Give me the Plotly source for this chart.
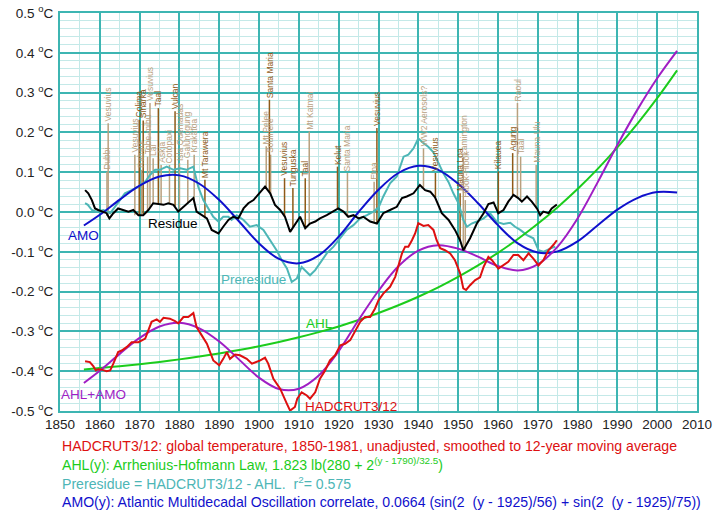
import plotly.graph_objects as go

# ---------------- data ----------------
had_years = [1856.3,1857.5,1858.4,1859.0,1859.6,1860.5,1861.7,1862.6,1863.4,1864.6,1865.5,1866.8,1868.0,1869.7,
             1871.4,1872.2,1873.0,1874.3,1875.1,1876.0,1877.6,1878.9,1879.7,1881.0,1882.2,1883.5,1884.3,1885.6,
             1886.9,1888.5,1890.0,1891.0,1891.9,1892.7,1894.0,1895.2,1896.9,1898.2,1900.3,1901.5,1902.3,1903.6,
             1905.3,1907.0,1907.8,1909.0,1909.6,1910.7,1912.0,1912.8,1914.1,1915.3,1916.6,1917.8,1919.1,1920.4,
             1921.6,1922.9,1924.1,1925.4,1926.6,1927.9,1929.1,1930.0,1931.2,1932.9,1934.2,1935.0,1935.9,1936.7,
             1937.5,1938.4,1939.2,1940.0,1941.3,1942.5,1943.8,1944.6,1945.5,1946.7,1948.0,1949.2,1950.5,1951.3,
             1952.0,1953.0,1954.3,1955.5,1956.4,1957.6,1958.5,1960.1,1961.4,1962.6,1963.9,1965.1,1966.4,1967.7,
             1968.9,1970.2,1971.4,1972.7,1973.9,1974.8]
had_vals = [-0.375,-0.377,-0.388,-0.398,-0.395,-0.396,-0.400,-0.398,-0.381,-0.352,-0.348,-0.339,-0.327,-0.327,
            -0.318,-0.297,-0.276,-0.270,-0.276,-0.266,-0.268,-0.274,-0.280,-0.264,-0.264,-0.254,-0.289,-0.310,
            -0.331,-0.373,-0.385,-0.369,-0.352,-0.369,-0.358,-0.360,-0.369,-0.381,-0.373,-0.366,-0.381,-0.419,
            -0.444,-0.482,-0.499,-0.490,-0.469,-0.453,-0.461,-0.469,-0.453,-0.419,-0.398,-0.373,-0.360,-0.335,
            -0.331,-0.322,-0.301,-0.276,-0.264,-0.264,-0.243,-0.222,-0.205,-0.188,-0.163,-0.134,-0.104,-0.087,
            -0.087,-0.071,-0.054,-0.028,-0.035,-0.033,-0.045,-0.071,-0.091,-0.096,-0.104,-0.121,-0.154,-0.192,
            -0.196,-0.184,-0.171,-0.164,-0.138,-0.113,-0.121,-0.142,-0.134,-0.125,-0.108,-0.108,-0.121,-0.104,
            -0.117,-0.134,-0.121,-0.096,-0.083,-0.071]

res_years = [1856.3,1857.1,1858.0,1858.8,1859.6,1860.5,1861.7,1862.4,1863.4,1864.6,1865.9,1867.2,1868.4,1869.7,
             1870.9,1872.2,1873.4,1874.7,1876.0,1877.2,1878.5,1879.7,1881.0,1882.2,1883.5,1884.3,1885.6,1886.9,
             1888.1,1889.8,1891.0,1892.3,1893.5,1894.8,1896.1,1897.3,1898.6,1900.3,1901.5,1902.8,1904.0,1905.3,
             1906.5,1907.8,1909.0,1910.3,1911.6,1912.8,1914.1,1915.3,1917.0,1918.7,1919.9,1921.2,1922.4,1923.7,
             1925.0,1926.2,1927.9,1929.6,1931.2,1932.9,1934.6,1935.9,1937.1,1938.8,1940.4,1941.7,1943.0,1944.2,
             1945.9,1947.6,1949.2,1950.5,1951.3,1953.0,1954.7,1956.4,1957.6,1958.9,1960.1,1961.4,1962.6,1963.9,
             1965.1,1966.0,1967.3,1968.5,1969.8,1970.6,1971.4,1972.7,1973.5,1974.8]
res_vals = [0.055,0.047,0.030,0.009,0.005,0.001,-0.003,-0.016,-0.003,0.009,0.005,0.001,0.005,-0.008,
            -0.008,0.005,0.022,0.020,0.018,0.022,0.018,0.001,0.013,0.022,0.035,0.001,-0.008,-0.016,
            -0.045,-0.054,-0.037,-0.020,-0.012,-0.016,0.009,0.022,0.030,0.051,0.064,0.047,0.018,0.005,
            -0.012,-0.050,-0.033,-0.012,-0.041,-0.029,-0.024,-0.016,-0.008,0.001,0.009,0.001,-0.012,-0.008,
            -0.016,-0.012,-0.024,-0.029,-0.003,0.005,0.013,0.035,0.039,0.047,0.068,0.055,0.051,0.037,
            -0.003,-0.020,-0.045,-0.071,-0.096,-0.066,-0.029,-0.003,0.020,0.024,-0.003,0.005,0.026,0.043,
            0.035,0.026,0.039,0.026,0.009,-0.008,0.001,-0.003,0.009,0.019]

pre_years = [1856.3,1857.0,1858.0,1859.2,1860.9,1862.6,1863.8,1865.1,1866.3,1868.0,1869.7,1871.4,1872.6,1873.9,
             1875.1,1876.8,1878.5,1880.2,1881.8,1883.5,1884.7,1886.0,1887.3,1888.5,1889.8,1891.0,1892.3,1893.1,
             1894.4,1896.1,1897.7,1899.4,1901.1,1902.8,1904.4,1905.7,1907.0,1908.2,1909.5,1910.7,1912.0,1912.8,
             1914.1,1915.3,1917.0,1918.7,1920.4,1922.0,1923.7,1925.4,1927.1,1928.7,1930.0,1931.2,1932.9,1934.6,
             1936.3,1937.5,1938.8,1940.0,1941.3,1942.5,1943.8,1945.0,1946.3,1947.6,1948.8,1950.1,1951.3,1952.2,
             1953.4,1954.7,1956.4,1958.0,1959.7,1961.4,1963.1,1964.3,1965.6,1967.3,1968.9,1970.2,1971.4,1973.1,
             1974.4]
pre_vals = [0.022,0.018,0.005,0.001,0.005,-0.003,0.013,0.030,0.047,0.055,0.064,0.076,0.093,0.106,
            0.106,0.114,0.106,0.110,0.106,0.114,0.064,0.030,0.009,-0.012,-0.024,-0.012,-0.012,-0.020,
            -0.008,-0.020,-0.037,-0.033,-0.045,-0.071,-0.096,-0.121,-0.142,-0.176,-0.167,-0.138,-0.150,-0.159,
            -0.146,-0.129,-0.104,-0.087,-0.066,-0.045,-0.033,-0.016,-0.008,0.001,0.011,0.039,0.072,0.089,
            0.139,0.144,0.160,0.185,0.173,0.164,0.150,0.125,0.097,0.075,0.047,0.022,-0.020,-0.037,
            -0.029,-0.024,-0.016,-0.003,-0.025,-0.030,-0.027,-0.037,-0.045,-0.058,-0.066,-0.096,-0.100,-0.092,
            -0.087]

model_years = [1856,1860,1865,1870,1875,1880,1885,1890,1895,1900,1905,1910,1915,1920,1925,1930,1935,1940,
               1945,1950,1955,1960,1965,1970,1975,1980,1985,1990,1995,2000,2005]
ahl_vals = [-0.3955,-0.3921,-0.3875,-0.3824,-0.3767,-0.3703,-0.3633,-0.3555,-0.3469,-0.3373,-0.3267,-0.3149,
            -0.3019,-0.2875,-0.2715,-0.2539,-0.2344,-0.2129,-0.1893,-0.1630,-0.1343,-0.1026,-0.0679,-0.0297,
            0.0122,0.0579,0.1078,0.1623,0.2216,0.2861,0.3560]
amo_vals = [-0.034,-0.007,0.031,0.066,0.089,0.092,0.071,0.030,-0.024,-0.079,-0.118,-0.129,-0.109,-0.062,
            0.000,0.056,0.098,0.116,0.106,0.071,0.022,-0.033,-0.079,-0.102,-0.099,-0.074,-0.034,0.006,
            0.035,0.050,0.049]
ahl_amo_vals = [-0.4295,-0.399,-0.3565,-0.3164,-0.2877,-0.2783,-0.2923,-0.3255,-0.3709,-0.4163,-0.4447,-0.4439,
                -0.4109,-0.3495,-0.2715,-0.1979,-0.1364,-0.0969,-0.0833,-0.092,-0.1123,-0.1356,-0.1469,-0.1317,
                -0.0868,-0.0161,0.0738,0.1683,0.2566,0.3361,0.405]

# volcano markers: name, year, base value, label-base value, shade (0 dark, 1 light)
volc_names = ["Dubbi","Vesuvius","Vesuvius","Colima","Rabaul","Sinarka","Tobe-mibu","Vesuvius","Lai","Taal",
              "Askja","Cotopaxi","Vulcan","Isla Quemadas","Galunggung","Krakatoa","Mt Tarawera",
              "Mt Pelee","Santa Maria","Soufriere","Vesuvius","Tunguska","Taal","Mt Katmai","Kelut",
              "Santa Maria","Etna","Vesuvius","WW2 Aerosols?","Vesuvius","Mauna Loa","Lamington",
              "Hibok-Hibok","Kilauea","Agung","Raoul","Taal","Mauna Ulu"]
volc_years = [1861.8,1862.1,1868.8,1869.9,1870.5,1870.9,1872.0,1872.6,1873.4,1874.7,
              1875.4,1877.5,1878.9,1880.0,1882.1,1883.7,1886.4,
              1901.8,1902.6,1902.9,1906.4,1908.5,1911.6,1912.6,1919.7,
              1922.2,1928.9,1929.6,1941.3,1944.3,1950.5,1951.3,
              1951.8,1960.1,1963.7,1964.9,1965.7,1969.6]
volc_base = [-0.010,-0.010,-0.008,-0.008,-0.006,-0.005,0.005,0.010,0.020,0.020,
             0.020,0.020,0.015,0.005,0.022,0.030,-0.016,
             0.058,0.050,0.045,-0.012,-0.040,-0.040,-0.030,0.009,
             -0.012,-0.025,-0.030,0.062,0.037,-0.075,-0.092,
             -0.095,-0.003,0.043,0.038,0.030,0.009]
volc_top = [0.101,0.223,0.144,0.232,0.106,0.230,0.139,0.274,0.135,0.261,
            0.118,0.118,0.253,0.123,0.131,0.144,0.081,
            0.165,0.282,0.144,0.085,0.060,0.085,0.202,0.114,
            0.098,0.076,0.211,0.160,0.098,0.047,0.139,
            0.030,0.102,0.148,0.274,0.139,0.118]
volc_shade = [1,1,1,0,1,0,1,1,1,0,
              1,1,0,1,1,1,0,
              1,0,1,0,0,0,1,0,
              1,1,0,1,0,0,1,
              1,0,0,1,1,1]

y_ticks = [-0.5, -0.4, -0.3, -0.2, -0.1, 0.0, 0.1, 0.2, 0.3, 0.4, 0.5]
y_tick_labels = ["-0.5", "-0.4", "-0.3", "-0.2", "-0.1", "0.0", "0.1", "0.2", "0.3", "0.4", "0.5"]

# ---------------- styling ----------------
FONT = "Liberation Sans, Arial, sans-serif"
MAJOR = "#3db5b2"
MINOR = "#c4e9e8"
DARK = "#8f5a18"
LIGHT = "#b9a07e"
RED = "#dd1010"
GREEN = "#1ccc1c"
TEAL = "#4db6b6"
BLUE = "#1010cc"
PURPLE = "#a01ec4"

fig = go.Figure()

# volcano lines
for shade, col in ((1, LIGHT), (0, DARK)):
    xs, ys = [], []
    for yr, b, t, s in zip(volc_years, volc_base, volc_top, volc_shade):
        if s == shade:
            xs += [yr, yr, None]
            ys += [b, t, None]
    fig.add_trace(go.Scatter(x=xs, y=ys, mode="lines", line=dict(color=col, width=1.5),
                             hoverinfo="skip", showlegend=False))

def add_line(x, y, color, shape="linear"):
    fig.add_trace(go.Scatter(x=x, y=y, mode="lines", line=dict(color=color, width=2, shape=shape),
                             showlegend=False))

add_line(pre_years, pre_vals, TEAL)
add_line(model_years, ahl_vals, GREEN, "spline")
add_line(model_years, amo_vals, BLUE, "spline")
add_line(model_years, ahl_amo_vals, PURPLE, "spline")
add_line(res_years, res_vals, "#000000")
add_line(had_years, had_vals, RED)

annotations = []
for name, yr, t, s in zip(volc_names, volc_years, volc_top, volc_shade):
    annotations.append(dict(x=yr, y=t, text=name, textangle=-90, showarrow=False,
                            xanchor="center", yanchor="bottom",
                            font=dict(family=FONT, size=8.5, color=DARK if s == 0 else LIGHT)))

labels = [("AMO", 1856.0, -0.060, BLUE), ("Residue", 1878.4, -0.028, "#000000"),
          ("Preresidue", 1898.5, -0.169, TEAL), ("AHL", 1915.3, -0.280, GREEN),
          ("HADCRUT3/12", 1923.1, -0.489, RED), ("AHL+AMO", 1858.5, -0.458, PURPLE)]
for txt, x, y, c in labels:
    annotations.append(dict(x=x, y=y, text=txt, showarrow=False, xanchor="center", yanchor="middle",
                            font=dict(family=FONT, size=13.5, color=c)))

notes = [("HADCRUT3/12: global temperature, 1850-1981, unadjusted, smoothed to 12-year moving average", RED, 446),
         ("AHL(y): Arrhenius-Hofmann Law, 1.823 lb(280 + 2<sup>(y - 1790)/32.5</sup>)", GREEN, 464),
         ("Preresidue = HADCRUT3/12 - AHL.  r<sup>2</sup>= 0.575", TEAL, 483),
         ("AMO(y): Atlantic Multidecadal Oscillation correlate, 0.0664 (sin(2\u00a0\u00a0(y - 1925)/56) + sin(2\u00a0\u00a0(y - 1925)/75))", BLUE, 502)]
for txt, c, ypx in notes:
    annotations.append(dict(x=0, y=(411 - ypx) / 398, xref="paper", yref="paper", text=txt,
                            showarrow=False, xanchor="left", yanchor="middle",
                            font=dict(family=FONT, size=14.1, color=c)))

fig.update_layout(
    width=724, height=514,
    margin=dict(l=60, r=27, t=13, b=103),
    paper_bgcolor="white", plot_bgcolor="white",
    font=dict(family=FONT, size=13.5, color="#222222"),
    annotations=annotations,
    showlegend=False,
)
fig.update_xaxes(range=[1850, 2010], tickmode="linear", tick0=1850, dtick=10, automargin=False,
                 showgrid=True, gridcolor=MAJOR, gridwidth=2, ticklabeloverflow="allow",
                 minor=dict(tickmode="linear", tick0=1850, dtick=5, showgrid=True, gridcolor=MINOR, gridwidth=1),
                 showline=True, linecolor=MAJOR, linewidth=2, mirror=True, zeroline=False,
                 ticks="", tickfont=dict(size=13.5, color="#222222"))
fig.update_yaxes(range=[-0.5, 0.5], tickmode="array", tickvals=y_ticks, automargin=False,
                 ticktext=[f"{t} <sup>o</sup>C" for t in y_tick_labels], ticklabeloverflow="allow",
                 showgrid=True, gridcolor=MAJOR, gridwidth=2,
                 minor=dict(tickmode="linear", tick0=0, dtick=0.02, showgrid=True, gridcolor=MINOR, gridwidth=1),
                 showline=True, linecolor=MAJOR, linewidth=2, mirror=True, zeroline=False,
                 ticks="", ticklabelstandoff=2, tickfont=dict(size=13.5, color="#222222"))

# remove the default page margin so the figure sits at the window's top-left corner
fig.write_html("out.html", config={"displayModeBar": False},
               post_script="document.body.style.margin='0px';")
